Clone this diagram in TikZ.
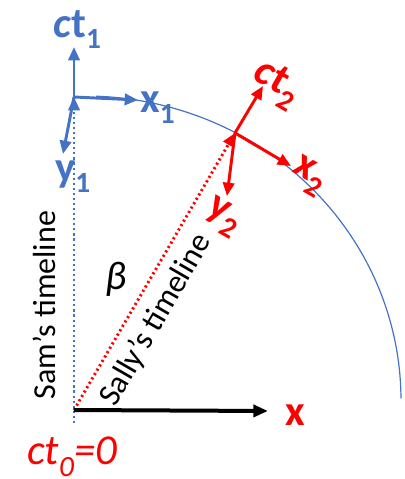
\documentclass[tikz,border=0pt]{standalone}
\usepackage{fontspec}
\setmainfont{Carlito}
\usepackage{tikz}
\usetikzlibrary{arrows.meta, positioning}

\definecolor{samblue}{HTML}{4472C4}
\definecolor{sallyred}{HTML}{FF0000}
\newcommand{\lowidx}[1]{\raisebox{-0.28em}{\fontsize{22}{22}\selectfont #1}}

\tikzset{
  axis/.style={line width=2.2pt, -{Triangle[length=10pt,width=8.5pt]}},
  timeline/.style={line width=2.2pt, dash pattern=on 1.6pt off 2.2pt, -{Triangle[length=10pt,width=8.5pt]}},
  lbl/.style={inner sep=0pt, font=\fontsize{32}{36}\selectfont\bfseries},
  txt/.style={inner sep=0pt, font=\fontsize{24}{28}\selectfont},
}

\begin{document}
\begin{tikzpicture}[x=0.75pt, y=-0.75pt]
    \useasboundingbox (0,0) rectangle (404,479);

    % =================================================================
    % COORDINATES
    % =================================================================
    % origin of the rest frame
    \coordinate (O) at (74,410);
    \coordinate (O_low) at (74,423);
    \coordinate (X_end) at (268,411);

    % Sam's frame
    \coordinate (S) at (74,97);
    \coordinate (S_ct) at (74,47);
    \coordinate (S_x) at (138,100);
    \coordinate (S_y) at (63,154);

    % Sally's frame
    \coordinate (T) at (235,133);
    \coordinate (T_ct) at (263,86);
    \coordinate (T_x) at (291,166);
    \coordinate (T_y) at (227,196);

    % =================================================================
    % ARC AND TIMELINES
    % =================================================================
    \draw[samblue, line width=0.9pt] plot[domain=0.3:88, samples=80]
        ({85+316*cos(\x)},{400-304*sin(\x)});

    \draw[timeline, samblue] (O_low) -- (S);
    \draw[timeline, sallyred] (O) -- (T);

    % =================================================================
    % AXES
    % =================================================================
    % Sam
    \draw[axis, samblue] (S) -- (S_ct);
    \draw[axis, samblue] (S) -- (S_x);
    \draw[axis, samblue] (S) -- (S_y);

    % Sally
    \draw[axis, sallyred] (T) -- (T_ct);
    \draw[axis, sallyred] (T) -- (T_x);
    \draw[axis, sallyred] (T) -- (T_y);

    % x axis
    \draw[line width=3pt, -{Triangle[length=11pt,width=9pt]}] (O) -- (X_end);

    % =================================================================
    % LABELS
    % =================================================================
    \node[lbl, samblue, anchor=base west] (ct1) at (53,37) {\textit{c}t\lowidx{1}};
    \node[lbl, samblue, anchor=base west] (x1) at (140,112) {x\lowidx{1}};
    \node[lbl, samblue, anchor=base west] (y1) at (55,181) {y\lowidx{1}};

    \node[lbl, sallyred, rotate=-30] (ct2) at (276,84) {\textit{c}t\lowidx{2}};
    \node[lbl, sallyred, rotate=-30] (x2) at (309,176) {x\lowidx{2}};
    \node[lbl, sallyred, rotate=-30] (y2) at (223,217) {y\lowidx{2}};

    \node[lbl, sallyred] (x) at (295,415) {x};
    \node[inner sep=0pt, sallyred, font=\fontsize{32}{36}\selectfont\itshape] (ct0) at (72,457) {ct\lowidx{0}=0};

    \node[txt, rotate=90] (sam) at (44,305) {Sam’s timeline};
    \node[txt, rotate=60] (sally) at (156,320) {Sally’s timeline};
    \node[inner sep=0pt, font=\fontsize{30}{30}\selectfont\itshape] (beta) at (116,279) {β};

\end{tikzpicture}
\end{document}
